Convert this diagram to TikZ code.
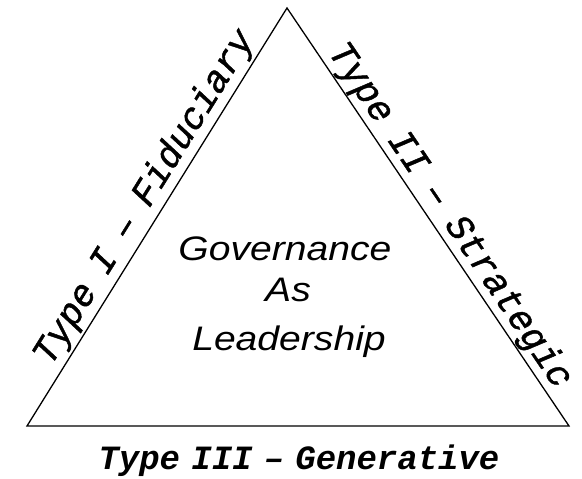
\documentclass[tikz,border=0pt]{standalone}
\usepackage{fontspec}
\setmainfont[FakeStretch=1.15]{Liberation Sans}
\newfontfamily\sidefont[WordSpace=0.8, ItalicFeatures={FakeBold=1.2}]{Liberation Mono}
\newfontfamily\basefont[WordSpace=0.55]{Liberation Mono}
\begin{document}
\begin{tikzpicture}[x=1pt,y=1pt,
  tri/.style={draw=black, line width=1.3pt, line join=miter},
  sidelabel/.style={font=\sidefont\itshape\fontsize{37}{40}\selectfont, inner sep=0pt},
  baselabel/.style={font=\basefont\itshape\bfseries\fontsize{34}{40}\selectfont, inner sep=0pt},
  centerlabel/.style={font=\itshape\fontsize{34}{40}\selectfont, inner sep=0pt}]
\useasboundingbox (0,0) rectangle (582,479);
\coordinate (L) at (27,53);
\coordinate (R) at (569,53);
\coordinate (T) at (287,471);
\draw[tri] (L) -- (T) -- (R) -- cycle;
\path (L) -- (T) node[sidelabel, pos=0.52, sloped, anchor=base, yshift=11pt] (s1) {Type I – Fiduciary};
\path (T) -- (R) node[sidelabel, pos=0.522, sloped, anchor=base, yshift=9pt] (s2) {Type II – Strategic};
\node[baselabel, anchor=base] (s3) at (299,9) {Type III – Generative};
\node[centerlabel, anchor=base] (c1) at (285,218) {Governance};
\node[centerlabel, anchor=base] (c2) at (288,177) {As};
\node[centerlabel, anchor=base] (c3) at (289,128) {Leadership};
\end{tikzpicture}
\end{document}
